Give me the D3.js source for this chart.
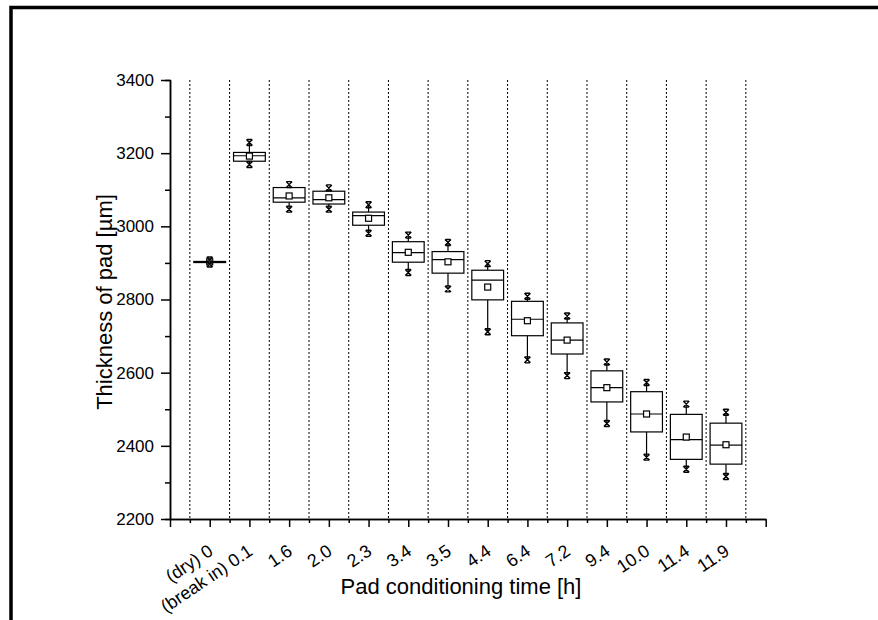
<!DOCTYPE html>
<html>
<head>
    <meta charset="utf-8">
    <title>Pad thickness box chart</title>
    <style>
        body { margin: 0; background: #fff; }
        text { font-family: Arial, "Liberation Sans", sans-serif; fill: #000; }
        .axis path, .axis line { stroke: #000; stroke-width: 1.5px; }
        .axis text { font-size: 17px; }
        .xlab text { font-size: 18px; }
        .sep { stroke: #000; stroke-width: 1px; stroke-dasharray: 2,2; }
        .box rect { fill: #fff; stroke: #000; stroke-width: 1.2px; }
        .box line { stroke: #000; stroke-width: 1.2px; }
    </style>
</head>
<body>
    <svg width="878" height="620"></svg>

    <script src="https://d3js.org/d3.v7.min.js"></script>
    <script>
        const labels = ["(dry) 0", "(break in) 0.1", "1.6", "2.0", "2.3", "3.4", "3.5",
                        "4.4", "6.4", "7.2", "9.4", "10.0", "11.4", "11.9"];
        const maxVals  = [2908, 3229, 3114, 3105, 3059, 2976, 2956, 2898, 2809, 2755, 2629, 2573, 2514, 2492];
        const q3Vals   = [2904, 3202, 3106, 3096, 3039, 2958, 2931, 2880, 2795, 2736, 2605, 2548, 2486, 2462];
        const medVals  = [2903, 3193, 3078, 3073, 3029, 2928, 2909, 2853, 2746, 2689, 2559, 2487, 2417, 2402];
        const meanVals = [2903, 3192, 3083, 3078, 3022, 2929, 2903, 2834, 2742, 2689, 2559, 2487, 2424, 2403];
        const q1Vals   = [2901, 3178, 3066, 3061, 3003, 2902, 2872, 2799, 2701, 2651, 2520, 2438, 2363, 2350];
        const minVals  = [2897, 3169, 3047, 3047, 2981, 2874, 2829, 2712, 2635, 2592, 2461, 2369, 2336, 2316];

        const yMajor = [2200, 2400, 2600, 2800, 3000, 3200, 3400];
        const yMinor = [2300, 2500, 2700, 2900, 3100, 3300];

        const svg = d3.select("svg");

        // outer frame (only left and top edges are visible)
        svg.append("rect")
            .attr("x", 11).attr("y", 7.5)
            .attr("width", 1000).attr("height", 1000)
            .attr("fill", "none").attr("stroke", "#000").attr("stroke-width", 3.5);

        const x = d3.scaleLinear().domain([0, 15]).range([170, 765.7]);
        const y = d3.scaleLinear().domain([2200, 3400]).range([519, 80]);

        const data = labels.map((l, i) => ({
            pos: i + 1, label: l,
            min: minVals[i], q1: q1Vals[i], med: medVals[i],
            q3: q3Vals[i], max: maxVals[i], mean: meanVals[i]
        }));

        // dotted separators between categories
        const seps = d3.range(0.5, 15, 1);
        svg.selectAll(".sep")
            .data(seps)
            .enter().append("line")
            .attr("class", "sep")
            .attr("x1", d => x(d)).attr("x2", d => x(d))
            .attr("y1", y(3400)).attr("y2", y(2200));

        // y axis
        svg.append("g")
            .attr("class", "axis")
            .attr("transform", `translate(${x(0)},0)`)
            .call(d3.axisLeft(y).tickValues(yMinor).tickSize(5).tickFormat(""));
        svg.append("g")
            .attr("class", "axis")
            .attr("transform", `translate(${x(0)},0)`)
            .call(d3.axisLeft(y).tickValues(yMajor).tickSize(9).tickPadding(7)
                .tickSizeOuter(0).tickFormat(d3.format("d")));

        // x axis
        svg.append("g")
            .attr("class", "axis")
            .attr("transform", `translate(0,${y(2200)})`)
            .call(d3.axisBottom(x).tickValues(seps).tickSize(4).tickFormat("").tickSizeOuter(0));
        const xAxis = svg.append("g")
            .attr("class", "axis xlab")
            .attr("transform", `translate(0,${y(2200)})`)
            .call(d3.axisBottom(x).tickValues(d3.range(0, 16)).tickSize(8).tickSizeOuter(0)
                .tickFormat(d => (d >= 1 && d <= 14) ? labels[d - 1] : ""));
        xAxis.selectAll("text")
            .attr("x", 0).attr("y", 0).attr("dy", 0)
            .attr("text-anchor", "end")
            .attr("transform", "translate(4,35) rotate(-34)");

        // boxes
        const bw = x(0.8) - x(0);
        const box = svg.selectAll(".box")
            .data(data)
            .enter().append("g")
            .attr("class", "box")
            .attr("transform", d => `translate(${x(d.pos)},0)`);

        box.append("line")
            .attr("x1", 0).attr("x2", 0)
            .attr("y1", d => y(d.max)).attr("y2", d => y(d.q3));
        box.append("line")
            .attr("x1", 0).attr("x2", 0)
            .attr("y1", d => y(d.q1)).attr("y2", d => y(d.min));

        box.append("rect")
            .attr("x", -bw / 2)
            .attr("y", d => y(d.q3))
            .attr("width", bw)
            .attr("height", d => y(d.q1) - y(d.q3));

        box.append("line")
            .attr("x1", -bw / 2).attr("x2", bw / 2)
            .attr("y1", d => y(d.med)).attr("y2", d => y(d.med));

        box.append("rect")
            .attr("x", -3).attr("y", d => y(d.mean) - 3)
            .attr("width", 6).attr("height", 6);

        // min / max crosses
        const cross = (sel, key) => {
            const g = sel.append("g").attr("transform", d => `translate(0,${y(d[key])})`);
            g.append("path")
                .attr("d", "M-3,-3L3,3M-3,3L3,-3M-2.5,-3L2.5,-3M-2.5,3L2.5,3")
                .attr("stroke", "#000").attr("stroke-width", 1.4).attr("fill", "none");
        };
        cross(box, "max");
        cross(box, "min");

        // axis titles
        svg.append("text")
            .attr("x", 461).attr("y", 594)
            .attr("text-anchor", "middle")
            .attr("font-size", 22)
            .text("Pad conditioning time [h]");

        svg.append("text")
            .attr("transform", "translate(112,302) rotate(-90)")
            .attr("text-anchor", "middle")
            .attr("font-size", 22)
            .text("Thickness of pad [µm]");
    </script>
</body>
</html>
